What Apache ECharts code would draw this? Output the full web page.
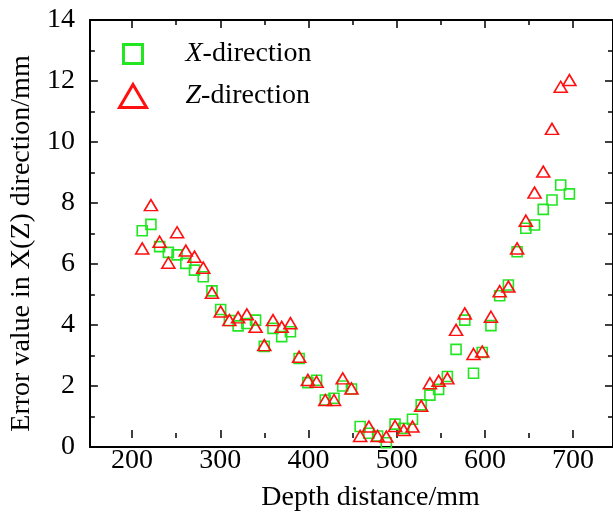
<!DOCTYPE html>
<html>
<head>
<meta charset="utf-8">
<script src="https://cdn.jsdelivr.net/npm/echarts@6/dist/echarts.min.js"></script>
<style>
	html, body {margin: 0; padding: 0; background: #fff;}
	#chart {width: 613px; height: 517px;}
</style>
</head>
<body>
<div id="chart"></div>
<script>
	var depth = [210, 220, 230, 240, 250, 260, 270, 280, 290, 300,
		310, 320, 330, 340, 350, 360, 370, 380, 390, 400,
		410, 420, 430, 440, 450, 460, 470, 480, 490, 500,
		510, 520, 530, 540, 550, 560, 570, 580, 590, 600,
		610, 620, 630, 640, 650, 660, 670, 680, 690, 700];

	var xDir = [7.09, 7.30, 6.57, 6.38, 6.30, 6.02, 5.80, 5.58, 5.12, 4.51,
		4.15, 3.97, 4.05, 4.16, 3.30, 3.89, 3.62, 3.78, 2.90, 2.11,
		2.19, 1.54, 1.60, 2.00, 1.90, 0.67, 0.45, 0.36, 0.14, 0.75,
		0.61, 0.91, 1.38, 1.70, 1.89, 2.31, 3.20, 4.16, 2.42, 3.10,
		3.98, 4.96, 5.31, 6.40, 7.17, 7.28, 7.79, 8.10, 8.59, 8.30];

	var zDir = [6.51, 7.93, 6.73, 6.04, 7.04, 6.44, 6.24, 5.88, 5.06, 4.44,
		4.16, 4.25, 4.35, 3.94, 3.34, 4.16, 3.94, 4.06, 2.96, 2.20,
		2.14, 1.54, 1.54, 2.25, 1.92, 0.36, 0.67, 0.36, 0.34, 0.69,
		0.56, 0.67, 1.35, 2.09, 2.17, 2.25, 3.84, 4.38, 3.05, 3.13,
		4.27, 5.11, 5.26, 6.51, 7.42, 8.34, 9.03, 10.43, 11.81, 12.03];

	var names = ['X-direction', 'Z-direction'];
	var green = '#22e622';
	var red = '#ff1010';
	var font = 'Liberation Serif';

	function pairs(xs, ys){
		return xs.map(function(x, i){ return [x, ys[i]]; });
	}

	// legend text: first letter italic
	function legendText(name){
		return '{i|' + name.charAt(0) + '}' + name.slice(1);
	}
	function legendTextStyle(gap){
		return {
			fontFamily: font,
			fontSize: 28,
			color: '#000',
			padding: [0, 0, 0, gap],
			rich: {
				i: {fontFamily: font, fontSize: 28, fontStyle: 'italic', color: '#000'}
			}
		};
	}

	var tickLine = {color: '#000', width: 1.5};
	var axisLine = {show: true, onZero: false, lineStyle: {color: '#000', width: 2}};

	var chart = echarts.init(document.getElementById('chart'));
	chart.setOption({
		animation: false,
		backgroundColor: '#fff',
		grid: [
			{left: 88, top: 20, width: 529, height: 427},
			// only used for the 100mm ticks / labels (200..700)
			{left: 132.1, top: 20, width: 441, height: 427}
		],
		legend: [{
			data: [names[0]],
			left: 122,
			top: 40,
			itemWidth: 19,
			itemHeight: 19,
			itemStyle: {color: 'rgba(0,0,0,0)', borderColor: green, borderWidth: 3},
			formatter: legendText,
			textStyle: legendTextStyle(38),
			padding: 0,
			itemGap: 0
		}, {
			data: [names[1]],
			left: 118,
			top: 82,
			itemWidth: 27,
			itemHeight: 23,
			itemStyle: {color: 'rgba(0,0,0,0)', borderColor: red, borderWidth: 3},
			formatter: legendText,
			textStyle: legendTextStyle(34),
			padding: 0,
			itemGap: 0
		}],
		xAxis: [{
			gridIndex: 0, type: 'value', position: 'bottom',
			min: 150, max: 750,
			axisLine: axisLine, axisTick: {show: false}, axisLabel: {show: false}, splitLine: {show: false}
		}, {
			gridIndex: 0, type: 'value', position: 'top',
			min: 150, max: 750,
			axisLine: axisLine, axisTick: {show: false}, axisLabel: {show: false}, splitLine: {show: false}
		}, {
			gridIndex: 1, type: 'value', position: 'bottom',
			min: 200, max: 700, interval: 100,
			name: 'Depth distance/mm',
			nameLocation: 'middle',
			nameGap: 46,
			nameTextStyle: {fontFamily: font, fontSize: 28, color: '#000', padding: [0, 0, 0, 36]},
			axisLine: {show: false},
			axisTick: {show: true, inside: true, length: 8, lineStyle: tickLine},
			minorTick: {show: true, splitNumber: 2, length: 5, lineStyle: tickLine},
			axisLabel: {fontFamily: font, fontSize: 28, color: '#000', margin: 9},
			splitLine: {show: false}
		}, {
			gridIndex: 1, type: 'value', position: 'top',
			min: 200, max: 700, interval: 100,
			axisLine: {show: false},
			axisTick: {show: true, inside: true, length: 8, lineStyle: tickLine},
			minorTick: {show: true, splitNumber: 2, length: 5, lineStyle: tickLine},
			axisLabel: {show: false},
			splitLine: {show: false}
		}],
		yAxis: [{
			gridIndex: 0, type: 'value', position: 'left',
			min: 0, max: 14, interval: 2,
			name: 'Error value in X(Z) direction/mm',
			nameLocation: 'middle',
			nameGap: 50,
			nameTextStyle: {fontFamily: font, fontSize: 28, color: '#000', padding: [0, 20, 0, 0]},
			axisLine: axisLine,
			axisTick: {show: true, inside: true, length: 8, lineStyle: tickLine},
			minorTick: {show: true, splitNumber: 2, length: 5, lineStyle: tickLine},
			axisLabel: {fontFamily: font, fontSize: 28, color: '#000', margin: 15},
			splitLine: {show: false}
		}, {
			gridIndex: 0, type: 'value', position: 'right',
			min: 0, max: 14, interval: 2,
			axisLine: axisLine,
			axisTick: {show: true, inside: true, length: 8, lineStyle: tickLine},
			minorTick: {show: true, splitNumber: 2, length: 5, lineStyle: tickLine},
			axisLabel: {show: false},
			splitLine: {show: false}
		}, {
			gridIndex: 1, type: 'value', min: 0, max: 14, show: false
		}],
		series: [{
			name: names[0],
			type: 'scatter',
			xAxisIndex: 0,
			yAxisIndex: 0,
			symbol: 'rect',
			symbolSize: 10,
			itemStyle: {color: 'rgba(0,0,0,0)', borderColor: green, borderWidth: 1.6, opacity: 1},
			data: pairs(depth, xDir)
		}, {
			name: names[1],
			type: 'scatter',
			xAxisIndex: 0,
			yAxisIndex: 0,
			symbol: 'triangle',
			symbolSize: [13, 11],
			itemStyle: {color: 'rgba(0,0,0,0)', borderColor: red, borderWidth: 1.6, opacity: 1},
			data: pairs(depth, zDir)
		}]
	});
</script>
</body>
</html>
